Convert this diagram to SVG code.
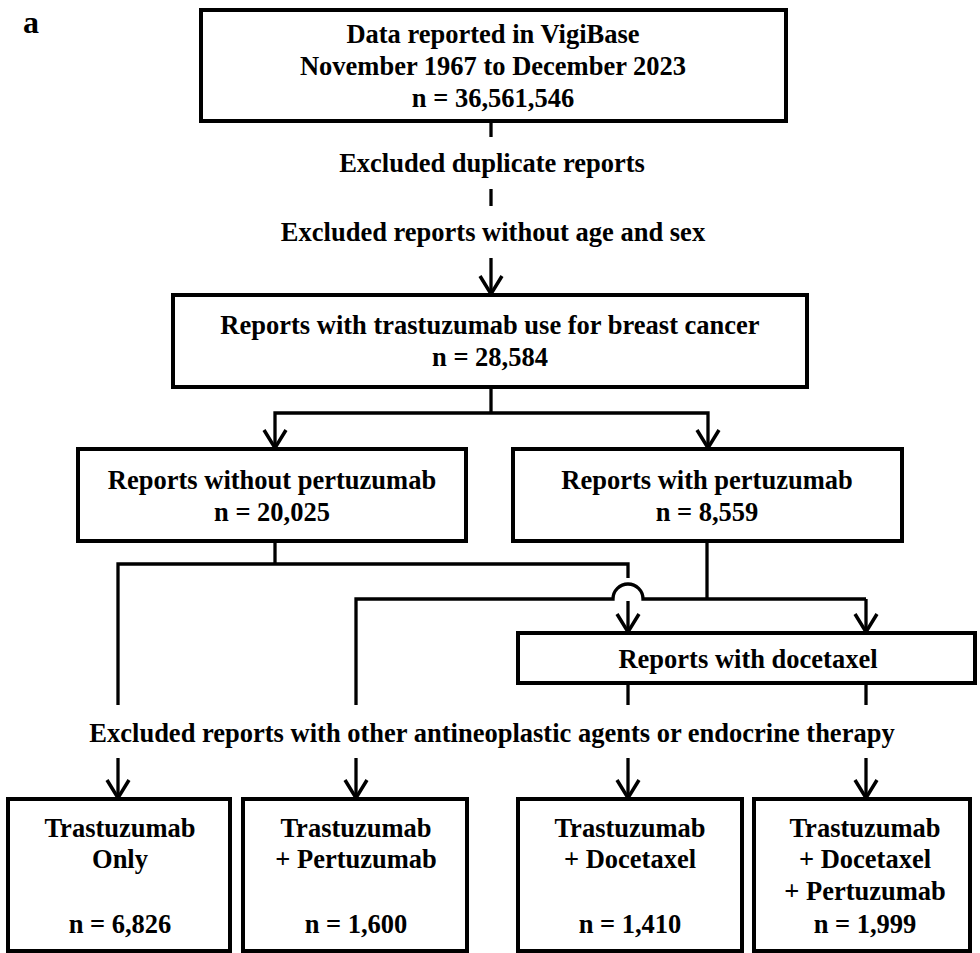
<svg xmlns="http://www.w3.org/2000/svg" width="980" height="953" viewBox="0 0 980 953">
<style>
.box{fill:#fff;stroke:#000;stroke-width:4}
.t{font-family:"Liberation Serif","Times New Roman",serif;font-weight:bold;font-size:26.5px;text-anchor:middle;fill:#000}
.c{fill:none;stroke:#000;stroke-width:3.3}
.a{marker-end:url(#arr)}
</style>
<defs>
<marker id="arr" markerUnits="userSpaceOnUse" markerWidth="26" markerHeight="28" refX="21" refY="13" orient="auto" viewBox="0 0 26 28" style="overflow:visible">
<path d="M2,2 L20,13 L2,24" fill="none" stroke="#000" stroke-width="3.5"/>
</marker>
</defs>
<rect width="980" height="953" fill="#fff"/>
<text x="23" y="33" style="font-family:'Liberation Serif','Times New Roman',serif;font-weight:bold;font-size:32px;fill:#000">a</text>

<g id="connectors">
<path class="c" d="M491,121 V137"/>
<text class="t" x="492" y="172">Excluded duplicate reports</text>
<path class="c" d="M491,189 V206"/>
<text class="t" x="493" y="241">Excluded reports without age and sex</text>
<path class="c a" d="M491,258 V295"/>
<path class="c" d="M491,387 V413"/>
<path class="c a" d="M491,413 H275 V449"/>
<path class="c a" d="M491,413 H708 V449"/>
<path class="c" d="M275,541 V564"/>
<path class="c" d="M628,578 V564 H118 V705"/>
<path class="c" d="M707,541 V599"/>
<path class="c" d="M356,705 V599 H613 A15,15 0 0 1 643,599 H866"/>
<path class="c a" d="M866,599 V633"/>
<path class="c a" d="M628,601 V633"/>
<path class="c" d="M628,683 V705"/>
<path class="c" d="M866,683 V705"/>
<text class="t" x="492" y="742">Excluded reports with other antineoplastic agents or endocrine therapy</text>
<path class="c a" d="M118,758 V799"/>
<path class="c a" d="M356,758 V799"/>
<path class="c a" d="M628,758 V799"/>
<path class="c a" d="M866,758 V799"/>
</g>

<g id="n-vigibase">
<rect class="box" x="201" y="10" width="585" height="111"/>
<text class="t" x="493" y="43">Data reported in VigiBase</text>
<text class="t" x="493" y="75">November 1967 to December 2023</text>
<text class="t" x="493" y="107">n = 36,561,546</text>
</g>
<g id="n-trastuzumab">
<rect class="box" x="173" y="295" width="634" height="92"/>
<text class="t" x="490" y="334">Reports with trastuzumab use for breast cancer</text>
<text class="t" x="490" y="366">n = 28,584</text>
</g>
<g id="n-without-pertuzumab">
<rect class="box" x="78" y="449" width="388" height="92"/>
<text class="t" x="272" y="489">Reports without pertuzumab</text>
<text class="t" x="272" y="521">n = 20,025</text>
</g>
<g id="n-with-pertuzumab">
<rect class="box" x="513" y="449" width="389" height="92"/>
<text class="t" x="707" y="489">Reports with pertuzumab</text>
<text class="t" x="707" y="521">n = 8,559</text>
</g>
<g id="n-docetaxel">
<rect class="box" x="518" y="633" width="457" height="50"/>
<text class="t" x="748" y="668">Reports with docetaxel</text>
</g>
<g id="n-t-only">
<rect class="box" x="8" y="799" width="222" height="152"/>
<text class="t" x="120" y="837">Trastuzumab</text>
<text class="t" x="120" y="868">Only</text>
<text class="t" x="120" y="933">n = 6,826</text>
</g>
<g id="n-t-p">
<rect class="box" x="243" y="799" width="224" height="152"/>
<text class="t" x="356" y="837">Trastuzumab</text>
<text class="t" x="356" y="868">+ Pertuzumab</text>
<text class="t" x="356" y="933">n = 1,600</text>
</g>
<g id="n-t-d">
<rect class="box" x="518" y="799" width="224" height="152"/>
<text class="t" x="630" y="837">Trastuzumab</text>
<text class="t" x="630" y="868">+ Docetaxel</text>
<text class="t" x="630" y="933">n = 1,410</text>
</g>
<g id="n-t-d-p">
<rect class="box" x="754" y="799" width="216" height="152"/>
<text class="t" x="865" y="837">Trastuzumab</text>
<text class="t" x="865" y="868">+ Docetaxel</text>
<text class="t" x="865" y="900">+ Pertuzumab</text>
<text class="t" x="865" y="933">n = 1,999</text>
</g>
</svg>
